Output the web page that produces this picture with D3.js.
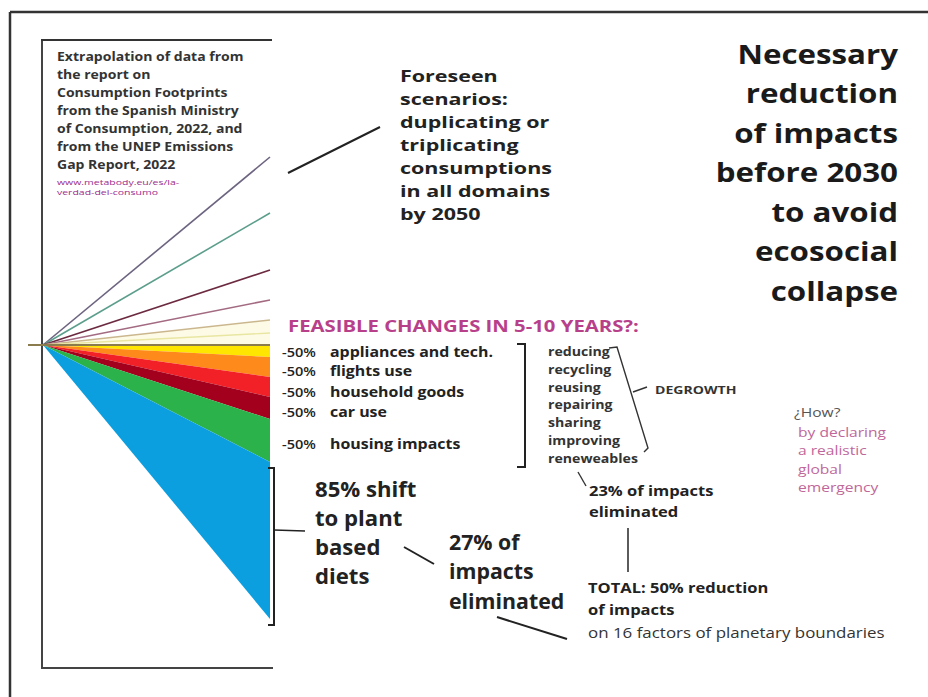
<!DOCTYPE html>
<html>
<head>
<meta charset="utf-8">
<script src="https://cdn.jsdelivr.net/npm/d3@7"></script>
<style>
  body { margin: 0; background: #fff; }
  svg { font-family: "Open Sans", sans-serif; }
</style>
</head>
<body>
<svg id="chart" width="928" height="697"></svg>
<script>
// reduction domains (wedges below the baseline), thickness at 2030
const reductionLabels = ["appliances and tech.", "flights use", "household goods", "car use", "housing impacts", "plant based diets"];
const reductionValues = [12, 20, 20, 22, 43, 157];
const reductionPct = ["-50%", "-50%", "-50%", "-50%", "-50%", "85%"];
// foreseen growth scenarios (lines above the baseline)
const scenarioValues = [188, 132, 75, 45, 25, 12];
const years = [2022, 2030];

const degrowthWords = ["reducing", "recycling", "reusing", "repairing", "sharing", "improving", "reneweables"];
const sourceLines = ["Extrapolation of data from", "the report on", "Consumption Footprints", "from the Spanish Ministry", "of Consumption, 2022, and", "from the UNEP Emissions", "Gap Report, 2022"];
const urlLines = ["www.metabody.eu/es/la-", "verdad-del-consumo"];
const scenarioText = ["Foreseen", "scenarios:", "duplicating or", "triplicating", "consumptions", "in all domains", "by 2050"];
const titleLines = ["Necessary", "reduction", "of impacts", "before 2030", "to avoid", "ecosocial", "collapse"];
const dietText = ["85% shift", "to plant", "based", "diets"];
const dietResult = ["27% of", "impacts", "eliminated"];
const degrowthResult = ["23% of impacts", "eliminated"];
const totalText = ["TOTAL: 50% reduction", "of impacts"];
const howText = ["by declaring", "a realistic", "global", "emergency"];

const wedgeColors = ["#ffe600", "#ff8a1c", "#f22127", "#a3001e", "#2cb24a", "#0b9fe0"];
const lineColors = ["#6d6480", "#5c9e8c", "#6c2a40", "#a36a82", "#cbb78e", "#e9e6a2"];

const svg = d3.select("#chart");

const x = d3.scaleLinear().domain(years).range([43, 270]);
const y = d3.scaleLinear().domain([-190, 280]).range([155, 625]);

// frames
const frame = (x1, y1, x2, y2, w, c) => svg.append("line")
  .attr("x1", x1).attr("y1", y1).attr("x2", x2).attr("y2", y2)
  .attr("stroke", c).attr("stroke-width", w);
frame(10, 12, 928, 12, 2.5, "#333");
frame(10, 12, 10, 697, 2.5, "#333");
frame(42, 40, 42, 669, 2, "#444");
frame(41, 40, 272, 40, 2, "#333");
frame(41, 668, 273, 668, 2, "#444");

// wedges
const cum = d3.cumsum(reductionValues);
const area = d3.area()
  .x(d => x(d.t))
  .y0(d => y(d.lo))
  .y1(d => y(d.hi));
reductionValues.forEach((v, i) => {
  const lo = i === 0 ? 0 : cum[i - 1];
  svg.append("path")
    .attr("fill", wedgeColors[i])
    .attr("d", area([{t: years[0], lo: 0, hi: 0}, {t: years[1], lo: lo, hi: cum[i]}]));
});

// pale fill above baseline
svg.append("path")
  .attr("fill", "#fdfbe6")
  .attr("d", area([{t: years[0], lo: 0, hi: 0}, {t: years[1], lo: 0, hi: -scenarioValues[4]}]));

// scenario lines
const line = d3.line().x(d => x(d.t)).y(d => y(d.v));
scenarioValues.forEach((v, i) => {
  svg.append("path")
    .attr("fill", "none")
    .attr("stroke", lineColors[i])
    .attr("stroke-width", i < 4 ? 1.6 : 1.4)
    .attr("d", line([{t: years[0], v: 0}, {t: years[1], v: -v}]));
});
// baseline
svg.append("line")
  .attr("x1", 28).attr("x2", x(years[1]))
  .attr("y1", y(0)).attr("y2", y(0))
  .attr("stroke", "#8a7c4c").attr("stroke-width", 2);

// text helper: the source picture is stretched sideways, so text gets a scaleX
function lines(arr, x0, y0, dy, opts) {
  const g = svg.append("g").attr("transform", `translate(${x0},0) scale(${opts.sx || 1},1)`);
  const t = g.append("text")
    .attr("x", 0).attr("y", y0)
    .attr("font-size", opts.size)
    .attr("font-weight", opts.weight || "bold")
    .attr("fill", opts.fill || "#222")
    .attr("text-anchor", opts.anchor || "start");
  arr.forEach((s, i) => t.append("tspan").attr("x", 0).attr("y", y0 + i * dy).text(s));
  return t;
}

lines(sourceLines, 57, 61, 18, {size: 11.5, sx: 1.22, fill: "#333"});
lines(urlLines, 57, 185, 10, {size: 7.5, sx: 1.4, weight: "normal", fill: "#9c2c8c"});
lines(scenarioText, 400, 82, 23, {size: 16.8, sx: 1.28});
lines(titleLines, 898, 64, 39.5, {size: 27, sx: 1.16, anchor: "end", fill: "#1a1a1a"});
lines(["FEASIBLE CHANGES IN 5-10 YEARS?:"], 288, 332, 0, {size: 16, sx: 1.27, fill: "#b8408a"});

// -50% list
const listY = [357, 376, 397, 417, 449];
reductionLabels.slice(0, 5).forEach((s, i) => {
  lines([reductionPct[i]], 282, listY[i], 0, {size: 13, sx: 1.12, weight: 600});
  lines([s], 330, listY[i], 0, {size: 13.5, sx: 1.18});
});

// bracket for list
svg.append("path").attr("fill", "none").attr("stroke", "#222").attr("stroke-width", 2)
  .attr("d", "M517,344 L525,344 L525,467 L517,467");

lines(degrowthWords, 548, 356, 17.8, {size: 11.5, sx: 1.23, fill: "#333"});
svg.append("path").attr("fill", "none").attr("stroke", "#333").attr("stroke-width", 1.4)
  .attr("d", "M609,348 L617,347 L648,448 L644,452");
svg.append("line").attr("x1", 633).attr("y1", 392).attr("x2", 647).attr("y2", 387)
  .attr("stroke", "#333").attr("stroke-width", 1.4);
lines(["DEGROWTH"], 655, 394, 0, {size: 11, sx: 1.28, fill: "#333"});

// leader to 23%
svg.append("line").attr("x1", 578).attr("y1", 472).attr("x2", 586).attr("y2", 486)
  .attr("stroke", "#333").attr("stroke-width", 1.4);
lines(degrowthResult, 589, 496, 21.5, {size: 14, sx: 1.18});
svg.append("line").attr("x1", 628).attr("y1", 528).attr("x2", 628).attr("y2", 572)
  .attr("stroke", "#333").attr("stroke-width", 1.6);
lines(totalText, 588, 593, 22.5, {size: 14, sx: 1.18});
lines(["on 16 factors of planetary boundaries"], 588, 638, 0, {size: 14, sx: 1.21, weight: "normal", fill: "#333"});

// diet bracket
svg.append("path").attr("fill", "none").attr("stroke", "#222").attr("stroke-width", 2)
  .attr("d", "M268,468 L274,468 L274,625 L268,625");
svg.append("line").attr("x1", 274).attr("y1", 530).attr("x2", 305).attr("y2", 531)
  .attr("stroke", "#222").attr("stroke-width", 1.6);
lines(dietText, 315, 497, 29, {size: 20.5, sx: 1.08});
svg.append("line").attr("x1", 404).attr("y1", 547).attr("x2", 434).attr("y2", 564)
  .attr("stroke", "#222").attr("stroke-width", 2);
lines(dietResult, 449, 550, 29.5, {size: 20.5, sx: 1.04});
svg.append("line").attr("x1", 497).attr("y1", 617).attr("x2", 567).attr("y2", 639)
  .attr("stroke", "#222").attr("stroke-width", 2);

// scenario leader
svg.append("line").attr("x1", 288).attr("y1", 173).attr("x2", 380).attr("y2", 127)
  .attr("stroke", "#222").attr("stroke-width", 2);

// how
lines(["¿How?"], 794, 417, 0, {size: 13, sx: 1.2, weight: "normal", fill: "#555"});
lines(howText, 798, 437, 18.5, {size: 13, sx: 1.2, weight: "normal", fill: "#c0679a"});
</script>
</body>
</html>
